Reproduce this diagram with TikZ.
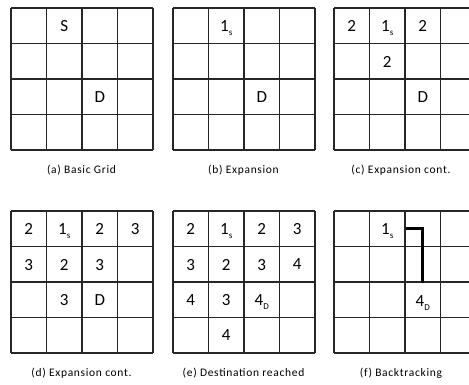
\documentclass[tikz,border=0pt]{standalone}
\usepackage{fontspec}
\setmainfont{Carlito}
\newfontfamily\capfont[LetterSpace=6]{Carlito}
\tikzset{
  gridline/.style={line width=1.2pt, draw=black!85},
  cell/.style={inner sep=0pt, text depth=0pt, font=\fontsize{17}{18}\selectfont, text=black},
  caption/.style={inner sep=0pt, font=\capfont\fontsize{11.5}{12}\selectfont, text=black},
  backtrack/.style={line width=3pt, draw=black},
}
\newcommand\mygrid[2]{%
  \foreach \i in {0,...,4} {
    \draw[gridline] ({#1+35.5*\i},#2) -- ({#1+35.5*\i},{#2+142});
    \draw[gridline] (#1,{#2+35.5*\i}) -- ({#1+142},{#2+35.5*\i});
  }}
\newcommand\sub[1]{\raisebox{-0.22em}{\fontsize{9}{9}\selectfont #1}}
\begin{document}
\begin{tikzpicture}[x=1pt,y=-1pt]
\useasboundingbox (0,0) rectangle (469,385);
\clip (0,0) rectangle (469,385);
\fill[white] (0,0) rectangle (469,385);
% grids
\mygrid{11}{8}
\mygrid{173}{8}
\mygrid{334}{8}
\mygrid{11}{211}
\mygrid{173}{211}
\mygrid{334}{211}
% (a)
\node[cell] (aS) at (64.25,26) {S};
\node[cell] (aD) at (99.75,97) {D};
% (b)
\node[cell] (b1) at (226.25,26) {1\sub{s}};
\node[cell] (bD) at (261.75,97) {D};
% (c)
\node[cell] (c11) at (351.75,26) {2};
\node[cell] (c12) at (387.25,26) {1\sub{s}};
\node[cell] (c13) at (422.75,26) {2};
\node[cell] (c22) at (387.25,61.5) {2};
\node[cell] (cD) at (422.75,97) {D};
% (d)
\node[cell] (d11) at (28.75,229) {2};
\node[cell] (d12) at (64.25,229) {1\sub{s}};
\node[cell] (d13) at (99.75,229) {2};
\node[cell] (d14) at (135.25,229) {3};
\node[cell] (d21) at (28.75,264.5) {3};
\node[cell] (d22) at (64.25,264.5) {2};
\node[cell] (d23) at (99.75,264.5) {3};
\node[cell] (d32) at (64.25,300) {3};
\node[cell] (dD) at (99.75,300) {D};
% (e)
\node[cell] (e11) at (190.75,229) {2};
\node[cell] (e12) at (226.25,229) {1\sub{s}};
\node[cell] (e13) at (261.75,229) {2};
\node[cell] (e14) at (297.25,229) {3};
\node[cell] (e21) at (190.75,264.5) {3};
\node[cell] (e22) at (226.25,264.5) {2};
\node[cell] (e23) at (261.75,264.5) {3};
\node[cell] (e24) at (297.25,264.5) {4};
\node[cell] (e31) at (190.75,300) {4};
\node[cell] (e32) at (226.25,300) {3};
\node[cell] (e33) at (261.75,300) {4\sub{D}};
\node[cell] (e42) at (226.25,335.5) {4};
% (f)
\node[cell] (f1) at (387.25,229) {1\sub{s}};
\node[cell] (fD) at (422.75,301) {4\sub{D}};
\coordinate (btS) at (406,228.75);
\coordinate (btD) at (422.75,283);
\draw[backtrack] (btS) -| (btD);
% captions
\node[caption] (capa) at (81.5,170) {(a) Basic Grid};
\node[caption] (capb) at (243.5,170) {(b) Expansion};
\node[caption] (capc) at (401,170) {(c) Expansion cont.};
\node[caption] (capd) at (81.5,373) {(d) Expansion cont.};
\node[caption] (cape) at (243.5,373) {(e) Destination reached};
\node[caption] (capf) at (401,373) {(f) Backtracking};
\end{tikzpicture}
\end{document}
